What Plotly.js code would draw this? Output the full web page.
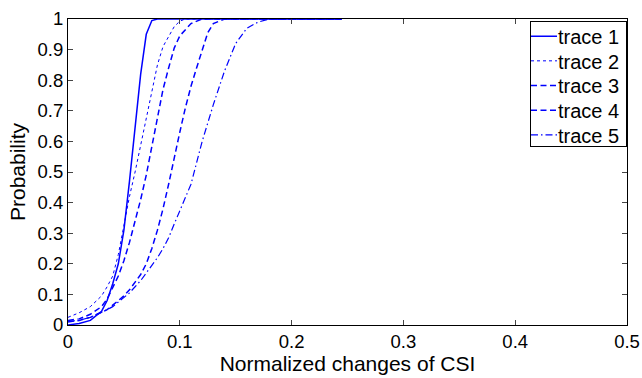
<!DOCTYPE html>
<html><head><meta charset="utf-8">
<script src="https://cdn.plot.ly/plotly-3.0.1.min.js"></script>
<style>html,body{margin:0;padding:0;background:#fff}#chart{width:642px;height:378px}</style>
</head><body><div id="chart"></div>
<script>
const xs1 = [0,0.01,0.02,0.03,0.035,0.04,0.045,0.05,0.055,0.06,0.065,0.07,0.075,0.08,0.245];
const trace1 = [0,0.005,0.015,0.045,0.08,0.135,0.2,0.31,0.47,0.64,0.82,0.95,0.995,1,1];
const xs2 = [0,0.01,0.02,0.03,0.035,0.04,0.045,0.05,0.055,0.06,0.065,0.07,0.075,0.08,0.085,0.09,0.095,0.1,0.105,0.245];
const trace2 = [0.025,0.04,0.06,0.095,0.125,0.16,0.23,0.33,0.42,0.5,0.59,0.68,0.77,0.85,0.91,0.945,0.975,0.993,1,1];
const xs3 = [0,0.01,0.02,0.03,0.035,0.04,0.045,0.05,0.055,0.06,0.065,0.07,0.075,0.08,0.085,0.09,0.095,0.1,0.11,0.12,0.245];
const trace3 = [0.015,0.02,0.035,0.06,0.085,0.12,0.16,0.21,0.27,0.34,0.41,0.49,0.58,0.67,0.77,0.84,0.905,0.945,0.985,1,1];
const xs4 = [0,0.01,0.02,0.03,0.035,0.04,0.045,0.05,0.055,0.06,0.065,0.07,0.075,0.08,0.085,0.09,0.095,0.1,0.105,0.11,0.115,0.12,0.125,0.13,0.14,0.245];
const trace4 = [0.01,0.015,0.025,0.04,0.05,0.065,0.08,0.095,0.115,0.14,0.165,0.2,0.25,0.31,0.38,0.46,0.55,0.63,0.71,0.78,0.84,0.9,0.955,0.985,1,1];
const xs5 = [0,0.01,0.02,0.03,0.035,0.04,0.045,0.05,0.055,0.06,0.065,0.07,0.075,0.08,0.085,0.09,0.095,0.1,0.11,0.12,0.13,0.14,0.15,0.16,0.17,0.18,0.245];
const trace5 = [0.012,0.015,0.025,0.04,0.05,0.06,0.075,0.09,0.105,0.125,0.145,0.17,0.195,0.22,0.25,0.285,0.33,0.375,0.46,0.6,0.72,0.83,0.92,0.97,0.99,1,1];
const names = ['trace 1','trace 2','trace 3','trace 4','trace 5'];
const xTicks = [0,0.1,0.2,0.3,0.4,0.5];
const yTicks = [0,0.1,0.2,0.3,0.4,0.5,0.6,0.7,0.8,0.9,1];

const xsAll = [xs1,xs2,xs3,xs4,xs5];
const ysAll = [trace1,trace2,trace3,trace4,trace5];
const dashes = ['solid','dot','6px,3.5px','6px,3.5px','7px,3px,1.5px,3px'];
const widths = [1.5,1,1.5,1.5,1.2];
const data = ysAll.map((y,i)=>({
  x: xsAll[i], y: y, name: names[i], type:'scatter', mode:'lines',
  line:{color:'#0000ff', width:widths[i], dash:dashes[i]}
}));
const fnt = 'Liberation Sans, Arial, sans-serif';
const layout = {
  width:642, height:378,
  margin:{l:68,r:15,t:19,b:53},
  paper_bgcolor:'#fff', plot_bgcolor:'#fff',
  font:{family:fnt, color:'#000', size:18.5},
  showlegend:true,
  legend:{x:1, xanchor:'right', y:0.993, yanchor:'top', bordercolor:'#000', borderwidth:1, bgcolor:'#fff',
    font:{family:fnt,size:20,color:'#000'}, tracegroupgap:0, itemwidth:30},
  xaxis:{range:[0,0.5], tickvals:xTicks, ticktext:xTicks.map(String), ticks:'inside', ticklen:5,
    showline:true, linecolor:'#000', linewidth:1, mirror:'ticks', showgrid:false, zeroline:false, automargin:false,
    tickfont:{size:18.5}, title:{text:'Normalized changes of CSI', font:{size:21}, standoff:4}},
  yaxis:{range:[0,1], tickvals:yTicks, ticktext:yTicks.map(String), ticks:'inside', ticklen:5,
    showline:true, linecolor:'#000', linewidth:1, mirror:'ticks', showgrid:false, zeroline:false, automargin:false,
    tickfont:{size:18.5}, title:{text:'Probability', font:{size:21}, standoff:6}}
};
Plotly.newPlot('chart', data, layout, {staticPlot:true, displayModeBar:false}).then(gd=>{
  // compact legend: short line samples flush with the box, rows 24.7px apart
  const legend = gd.querySelector('.legend');
  if(!legend) return;
  const items = [...legend.querySelectorAll('.traces')];
  const rowTop = 15, gap = 24.7, bottomPad = 11, shiftText = 12;
  items.forEach((el,i)=>{
    el.setAttribute('transform',`translate(0,${rowTop+i*gap})`);
    el.querySelectorAll('.legendlines path, path.js-line').forEach(p=>p.setAttribute('d','M1,0h26'));
    el.querySelectorAll('text.legendtext').forEach(t=>{
      t.setAttribute('x', 28);
      t.querySelectorAll('tspan[x]').forEach(s=>s.setAttribute('x', 28));
    });
  });
  const bgs = legend.querySelectorAll('rect.bg');
  const m=/translate\(\s*([-\d.]+)[ ,]+([-\d.]+)\s*\)/.exec(legend.getAttribute('transform')||'');
  let w = 0;
  bgs.forEach(bg=>{
    w = parseFloat(bg.getAttribute('width'));
    bg.setAttribute('height', rowTop+(items.length-1)*gap+bottomPad);
    bg.setAttribute('width', w-shiftText);
  });
  if(m) legend.setAttribute('transform',`translate(${parseFloat(m[1])+shiftText},${parseFloat(m[2])})`);
});
</script></body></html>
